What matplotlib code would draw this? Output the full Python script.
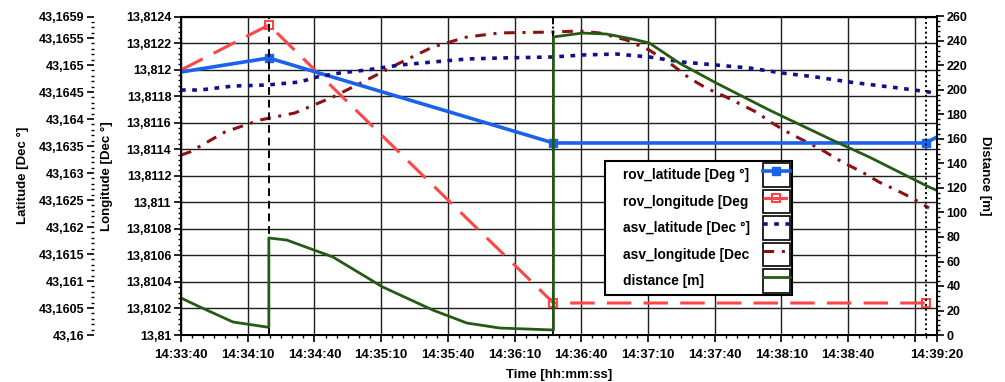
import numpy as np
import matplotlib
matplotlib.use("Agg")
import matplotlib.pyplot as plt
from matplotlib.ticker import MultipleLocator, FuncFormatter
from matplotlib.legend_handler import HandlerLine2D
from matplotlib.lines import Line2D
from matplotlib.patches import Rectangle
from matplotlib.offsetbox import HPacker, DrawingArea

plt.rcParams['font.family'] = ['Liberation Sans', 'DejaVu Sans']
plt.rcParams['font.weight'] = 'bold'
plt.rcParams['axes.labelweight'] = 'bold'
plt.rcParams['font.size'] = 9

# time in seconds after 14:33:40
clock_start = 14 * 3600 + 33 * 60 + 40
t_end = 340

# rover fixes (sparse)
rov_t = [0, 39.5, 167.5, 335, 340]
rov_lat = [43.164872, 43.165131, 43.163557, 43.163557, 43.163668]
rov_lon = [13.811997, 13.812336, 13.810241, 13.810241, 13.810241]

# asv track
asv_lat_t = [0, 8.5, 23.4, 38.6, 53.4, 61.1, 71.4, 83.5, 98.4, 113.2, 128.5, 143.3,
             167.1, 180.5, 195.8, 210.6, 225.5, 240.7, 255.6, 270.4, 285.6, 300.5,
             315.3, 322.9, 336.4, 339.5]
asv_lat = [43.164538, 43.164538, 43.164612, 43.164631, 43.164687, 43.164779, 43.164853,
           43.164909, 43.165001, 43.165057, 43.165113, 43.165131, 43.165150, 43.165187,
           43.165205, 43.165150, 43.165057, 43.165001, 43.164946, 43.164853, 43.164779,
           43.164687, 43.164612, 43.164575, 43.164501, 43.164464]

asv_lon_t = [0, 4, 19.8, 35.5, 51.2, 68.3, 83.5, 98.4, 113.2, 128.5, 143.3, 167.1, 179.2,
             188.2, 200.3, 210.6, 221, 228.6, 236.2, 245.2, 258.7, 265.9, 273.5, 288.3,
             297.3, 306.3, 313.9, 321.6, 328.8, 336.4]
asv_lon = [13.811356, 13.811379, 13.811530, 13.811620, 13.811673, 13.811793, 13.811921,
           13.812050, 13.812170, 13.812245, 13.812276, 13.812283, 13.812291, 13.812276,
           13.812223, 13.812147, 13.812034, 13.811936, 13.811861, 13.811793, 13.811680,
           13.811597, 13.811522, 13.811394, 13.811304, 13.811228, 13.811153, 13.811093,
           13.811032, 13.810957]

# rover-asv distance
dist_t = [0, 8.5, 23.4, 38.6, 39.5, 39.5, 47.6, 68.3, 90.7, 113.2, 128.5, 143.3, 167.5,
          167.5, 180.5, 191.3, 203, 210.6, 224.1, 240.7, 264.5, 292.8, 309.5, 336.4, 339.5]
dist_m = [30.2, 22.9, 10.6, 6.5, 6.5, 79.2, 77.5, 63.7, 39.2, 20.4, 9.8, 5.7, 4.1,
          243.3, 246.5, 245.7, 241.6, 238.4, 222.0, 205.7, 183.7, 159.2, 145.3, 120.8, 118.4]

# cursors
cursor_t = [39.5, 167.5, 335]
cursor_styles = [(0, (4, 2.5)), (0, (6, 1.2, 1, 1.2)), (0, (1, 1.5))]

lon_ticks = np.round(np.arange(13.81, 13.81241, 0.0002), 4)
lat_ticks = list(np.round(np.arange(43.16, 43.16551, 0.0005), 4)) + [43.1659]
time_ticks = list(range(0, 331, 30)) + [340]

legend_labels = ['rov_latitude [Deg °]', 'rov_longitude [Deg', 'asv_latitude [Dec °]',
                 'asv_longitude [Dec', 'distance [m]']


def comma_fmt(v, pos=None):
    return f"{v:.4f}".rstrip('0').rstrip('.').replace('.', ',')


def clock_fmt(v, pos=None):
    s = int(round(clock_start + v))
    return f"{s // 3600:02d}:{s % 3600 // 60:02d}:{s % 60:02d}"


class BoxedLine(HandlerLine2D):
    # short line sample drawn inside a small framed box
    def create_artists(self, legend, orig_handle, xdescent, ydescent, width, height,
                       fontsize, trans):
        arts = super().create_artists(legend, orig_handle, xdescent, ydescent, width,
                                      height, fontsize, trans)
        for a in arts:
            if isinstance(a, Line2D) and len(a.get_xdata()) == 2:
                a.set_xdata([-xdescent + 5, width - xdescent - 5])
                a.set_solid_capstyle('butt')
                a.set_dash_capstyle('butt')
        box = Rectangle((-xdescent, -ydescent), width, height, fill=False,
                        edgecolor='black', lw=1.2, transform=trans)
        return [box] + list(arts)


fig = plt.figure(figsize=(10.05, 3.82), dpi=100)
ax = fig.add_axes([181 / 1005, 47 / 382, 756 / 1005, 318.5 / 382])
ax_lat = ax.twinx()
ax_d = ax.twinx()

# longitude (host axis, carries the grid)
ax.set_xlim(0, t_end)
ax.set_ylim(13.81, 13.8124)
ax.set_yticks(lon_ticks)
ax.yaxis.set_minor_locator(MultipleLocator(0.00004))
ax.yaxis.set_major_formatter(FuncFormatter(comma_fmt))
ax.set_xticks(time_ticks)
ax.set_xticklabels(['' if t == 330 else clock_fmt(t) for t in time_ticks])
ax.xaxis.set_minor_locator(MultipleLocator(5))
ax.grid(True, which='major', color='#1e1e1e', lw=1.0)
ax.set_axisbelow(True)
ax.set_ylabel('Longitude [Dec °]', fontsize=9.5)
ax.yaxis.set_label_coords(-0.09, 0.5)
ax.set_xlabel('Time [hh:mm:ss]', fontsize=9.5, va='center')
ax.xaxis.set_label_coords(0.5, -0.127)

# latitude, pushed out to the far left
ax_lat.set_ylim(43.16, 43.1659)
ax_lat.yaxis.tick_left()
ax_lat.yaxis.set_label_position('left')
ax_lat.spines['left'].set_position(('outward', 87 * 0.72))
for s in ax_lat.spines.values():
    s.set_visible(False)
ax_lat.set_yticks(lat_ticks)
ax_lat.yaxis.set_minor_locator(MultipleLocator(0.0001))
ax_lat.yaxis.set_major_formatter(FuncFormatter(comma_fmt))
ax_lat.set_ylabel('Latitude [Dec °]', fontsize=9.5)
ax_lat.yaxis.set_label_coords(-0.201, 0.5)

# distance on the right
ax_d.set_ylim(0, 260)
ax_d.yaxis.set_major_locator(MultipleLocator(20))
ax_d.yaxis.set_minor_locator(MultipleLocator(4))
ax_d.set_ylabel('Distance [m]', fontsize=9.5, rotation=270)
ax_d.yaxis.set_label_coords(1.071, 0.5)

for a in (ax, ax_lat, ax_d):
    a.tick_params(which='major', direction='out', length=5, width=1.2, pad=2,
                  labelsize=9)
    a.tick_params(which='minor', direction='out', length=2.5, width=1)
ax.tick_params(axis='x', which='major', labelsize=9.5, pad=5)
for s in ax.spines.values():
    s.set_linewidth(1.4)
ax_d.spines['right'].set_linewidth(1.4)

# series
l_rlon, = ax.plot(rov_t, rov_lon, color='#ff4646', lw=2.2, ls=(0, (8, 4)),
                  marker='s', ms=6, mfc='none', mew=1.5, markevery=[1, 2, 3])
l_alon, = ax.plot(asv_lon_t, asv_lon, color='#8a1212', lw=2.2, ls=(0, (3.5, 2.5, 1, 2.5)))
l_rlat, = ax_lat.plot(rov_t, rov_lat, color='#1a62ea', lw=2.6, marker='s', ms=6,
                      markevery=[1, 2, 3])
l_alat, = ax_lat.plot(asv_lat_t, asv_lat, color='#10108e', lw=2.6, ls=(0, (1.3, 1.8)))
l_dist, = ax_d.plot(dist_t, dist_m, color='#245a14', lw=2.0)

for t, st in zip(cursor_t, cursor_styles):
    ax_d.axvline(t, color='black', lw=1.4, ls=st, zorder=1)

lines = [l_rlat, l_rlon, l_alat, l_alon, l_dist]
leg = ax_d.legend(lines, legend_labels,
                  loc='upper left', bbox_to_anchor=(605 / 1005, 1 - 161 / 382),
                  bbox_transform=fig.transFigure, borderaxespad=0, markerfirst=False,
                  numpoints=1, handlelength=1.94, handleheight=2.28, labelspacing=0.2,
                  borderpad=0.15, handletextpad=1.0, fancybox=False, framealpha=1,
                  edgecolor='black', prop={'weight': 'bold', 'size': 9.9},
                  handler_map={h: BoxedLine() for h in lines})
leg.get_frame().set_linewidth(1.5)

# left-aligned labels, swatches pushed to the right edge
col = leg._legend_handle_box.get_children()[0]
rows = []
for row in col.get_children():
    row.mode = 'expand'
    row.width = 167
    rows.append(HPacker(children=[DrawingArea(11.2, 1), row], pad=0, sep=0, align='center'))
col._children = rows

fig.savefig('out.png', dpi=100)
